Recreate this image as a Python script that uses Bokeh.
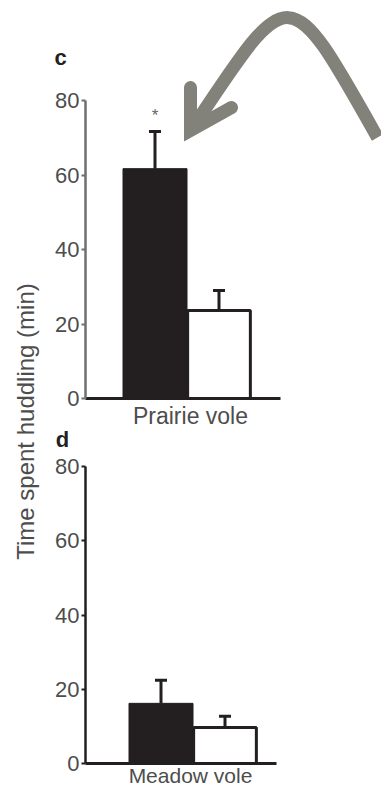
import math
from bokeh.plotting import figure
from bokeh.models import Range1d, LinearAxis, FixedTicker
from bokeh.core.properties import value
from bokeh.embed import file_html
from bokeh.resources import INLINE

# ---------------- data ----------------
groups = ["Prairie vole", "Meadow vole"]
panel_labels = ["c", "d"]
prairie_mean = [61.7, 23.6]   # black bar, white bar
prairie_sem = [10.0, 5.4]
meadow_mean = [16.2, 9.7]
meadow_sem = [6.2, 3.0]
significance = ["*", ""]      # marks above prairie-vole bars
y_ticks = [0, 20, 40, 60, 80]
y_title = "Time spent huddling (min)"

# ---------------- layout / style constants ----------------
W, H = 381, 789
OFF = 0                      # canvas origin in page pixels
AX_X = 85                    # page x of the y axes
PX_PER_BAR = 64.0            # one x unit = one bar width
BLACK = "#231f20"
GREY_TXT = "#4d4d4d"
ARROW = "#82827a"
FONT = "Liberation Sans"

def xr(px):
    return (px - AX_X) / PX_PER_BAR

# panel c : 0 at page y 398, 3.725 px per unit; panel d : 0 at 763, 3.7125 px/unit
def yrange(zero_py, ppu):
    return Range1d(-(OFF + H - zero_py) / ppu, (zero_py - OFF) / ppu)

p = figure(width=W, height=H, output_backend="svg", toolbar_location=None,
           x_axis_location=None, y_axis_location=None,
           x_range=Range1d(xr(OFF), xr(OFF + W)), y_range=yrange(398, 3.725),
           min_border=0, min_border_left=0, min_border_right=0,
           min_border_top=0, min_border_bottom=0,
           outline_line_color=None, background_fill_color="white",
           border_fill_color="white")
p.extra_y_ranges = {"d": yrange(763, 3.7125), "px": Range1d(OFF + H, OFF)}
p.extra_x_ranges = {"px": Range1d(OFF, OFF + W)}
p.grid.visible = False

panels = [
    dict(name="default", means=prairie_mean, sems=prairie_sem, x0=xr(154.5),
         ycol="#6f6f6f", xend=xr(280), label=groups[0], sig=significance,
         lab_size="23px", lab_standoff=4),
    dict(name="d", means=meadow_mean, sems=meadow_sem, x0=xr(160.5),
         ycol=BLACK, xend=xr(276), label=groups[1], sig=["", ""],
         lab_size="21px", lab_standoff=0),
]

for pan in panels:
    yn = pan["name"]
    xs = [pan["x0"] + i for i in range(len(pan["means"]))]
    tops = [m + s for m, s in zip(pan["means"], pan["sems"])]
    # bars
    p.vbar(x=[xs[0]], top=[pan["means"][0]], bottom=0, width=1.0,
           fill_color=BLACK, line_color=BLACK, line_width=1, y_range_name=yn)
    p.vbar(x=[xs[1]], top=[pan["means"][1]], bottom=0, width=0.98,
           fill_color="white", line_color=BLACK, line_width=3, y_range_name=yn)
    # error bars (upper only)
    p.segment(x0=xs, y0=pan["means"], x1=xs, y1=tops, line_color=BLACK,
              line_width=3, y_range_name=yn)
    cap = 6.0 / PX_PER_BAR
    p.segment(x0=[x - cap for x in xs], y0=tops, x1=[x + cap for x in xs], y1=tops,
              line_color=BLACK, line_width=3, y_range_name=yn)
    # significance marks
    for x, t, s in zip(xs, tops, pan["sig"]):
        if s:
            p.text(x=[x], y=[t + 4.2], text=[s], text_align="center",
                   text_baseline="middle", text_font=value(FONT),
                   text_font_size="17px", text_color="#666666", y_range_name=yn)

    # y axis
    yax = LinearAxis(y_range_name=yn, fixed_location=0, bounds=(0, 80),
                     ticker=FixedTicker(ticks=y_ticks, minor_ticks=[]))
    yax.axis_line_color = pan["ycol"]
    yax.axis_line_width = 2.5
    yax.major_tick_line_color = pan["ycol"]
    yax.major_tick_line_width = 2
    yax.major_tick_out = 4
    yax.major_tick_in = 0
    yax.minor_tick_line_color = None
    yax.major_label_standoff = 2
    yax.major_label_text_font = FONT
    yax.major_label_text_font_size = "22px"
    yax.major_label_text_color = GREY_TXT
    p.add_layout(yax, "left")

    # x axis (category label)
    center = xr(190)
    xax = LinearAxis(y_range_name=yn, fixed_location=0, bounds=(0, pan["xend"]),
                     ticker=FixedTicker(ticks=[center], minor_ticks=[]))
    xax.major_label_overrides = {center: pan["label"]}
    xax.axis_line_color = BLACK
    xax.axis_line_width = 3
    xax.major_tick_line_color = None
    xax.major_tick_out = 0
    xax.major_tick_in = 0
    xax.minor_tick_line_color = None
    xax.major_label_standoff = pan["lab_standoff"]
    xax.major_label_text_font = FONT
    xax.major_label_text_font_size = pan["lab_size"]
    xax.major_label_text_color = GREY_TXT
    p.add_layout(xax, "below")

# panel letters
p.text(x=[60, 62], y=[57, 439], text=panel_labels, text_align="center",
       text_baseline="alphabetic", text_font=value(FONT), text_font_style="bold",
       text_font_size="22px", text_color=BLACK, x_range_name="px", y_range_name="px")

# shared y-axis title
p.text(x=[25], y=[421], text=[y_title], angle=math.pi / 2, text_align="center",
       text_baseline="middle", text_font=value(FONT), text_font_size="24px",
       text_color=GREY_TXT, x_range_name="px", y_range_name="px")

# decorative curved arrow (page-pixel coordinates)
p.bezier(x0=[377], y0=[137], x1=[191], y1=[129], cx0=[287.6], cy0=[-22],
         cx1=[290.3], cy1=[-21], line_color=ARROW, line_width=13, line_cap="butt",
         x_range_name="px", y_range_name="px")
p.line(x=[190, 190, 231], y=[87, 130, 107], line_color=ARROW, line_width=13,
       line_cap="round", line_join="miter", x_range_name="px", y_range_name="px")

open("out.html", "w").write(file_html(p, INLINE))
